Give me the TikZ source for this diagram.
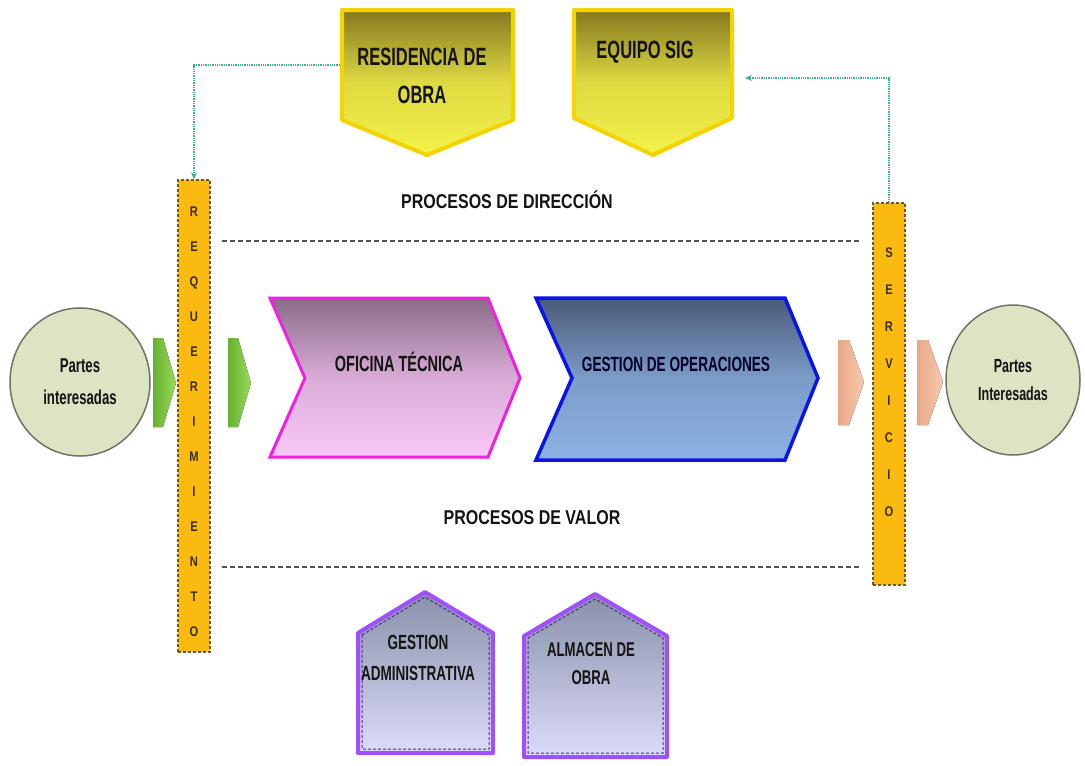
\documentclass[tikz,border=0pt]{standalone}
\usepackage{fontspec}
\setmainfont{Liberation Sans}
\newfontfamily\narrowbf[FakeStretch=0.66]{Liberation Sans}
\newfontfamily\midbf[FakeStretch=0.8]{Liberation Sans}
\usetikzlibrary{arrows.meta,shapes.geometric}
\definecolor{gold}{HTML}{F5D300}
\definecolor{olivetop}{HTML}{857820}
\definecolor{yelbot}{HTML}{F4F24A}
\definecolor{barfill}{HTML}{FBBA10}
\definecolor{bardash}{HTML}{6A5A30}
\definecolor{barletter}{HTML}{3A3010}
\definecolor{conncol}{HTML}{3CB48A}
\definecolor{sage}{HTML}{DCE4C4}
\definecolor{sageline}{HTML}{6E7468}
\definecolor{grnlight}{HTML}{9AD85A}
\definecolor{grndark}{HTML}{66B030}
\definecolor{peach}{HTML}{F8C8AC}
\definecolor{peachdk}{HTML}{E8A888}
\definecolor{magline}{HTML}{F020E0}
\definecolor{mauvetop}{HTML}{8A6A88}
\definecolor{pinkbot}{HTML}{FAC8F8}
\definecolor{blueline}{HTML}{0A14E6}
\definecolor{slatetop}{HTML}{4A5A78}
\definecolor{bluebot}{HTML}{8CB2E4}
\definecolor{purpline}{HTML}{A050F8}
\definecolor{purpdk}{HTML}{4A2A90}
\definecolor{housetop}{HTML}{8890A8}
\definecolor{housebot}{HTML}{DCDCFA}
\definecolor{dashgray}{HTML}{555555}
\definecolor{txtdark}{HTML}{141414}
\begin{document}
\begin{tikzpicture}[x=1pt,y=-1pt,
  yellowshape/.style={draw=gold,line width=4pt,line join=round,top color=olivetop,bottom color=yelbot,middle color=yelbot!80!olivetop},
  barbox/.style={rectangle,draw=bardash,densely dashed,line width=1.2pt,fill=barfill,inner sep=0pt},
  barletters/.style={align=center,text=barletter,font=\midbf\bfseries\fontsize{14}{35}\selectfont},
  conn/.style={conncol,densely dotted,line width=1.3pt,-{Stealth[length=7pt,width=6pt]}},
  sepline/.style={dashgray,dashed,line width=1.2pt,dash pattern=on 5pt off 3pt},
  party/.style={ellipse,draw=sageline,line width=1.5pt,fill=sage,inner sep=0pt,align=center,font=\narrowbf\bfseries\fontsize{20}{32}\selectfont,text=txtdark},
  greenarrow/.style={left color=grndark,right color=grnlight,draw=none},
  peacharrow/.style={left color=peachdk,right color=peach,draw=none},
  lbl/.style={align=center,text=txtdark,font=\narrowbf\bfseries\fontsize{25}{38}\selectfont},
  biglbl/.style={align=center,text=txtdark,font=\midbf\bfseries\fontsize{20}{24}\selectfont},
  house/.style={draw=purpline,line width=4pt,line join=round,top color=housetop,bottom color=housebot},
  houseinner/.style={draw=purpdk,densely dashed,line width=1pt}
]
\useasboundingbox (0,0) rectangle (1085,766);
\fill[white] (0,0) rectangle (1085,766);

% top yellow shapes
\draw[yellowshape] (342,10) -- (513,10) -- (513,120) -- (427,155) -- (342,120) -- cycle;
\draw[yellowshape] (574,10) -- (732,10) -- (732,118) -- (653,155) -- (574,118) -- cycle;
\node[lbl] (res) at (422,76) {RESIDENCIA DE\\OBRA};
\node[lbl] (sig) at (645,52) {EQUIPO SIG};
\coordinate (resL) at (340,65);
\coordinate (sigR) at (745,78);

% separators
\coordinate (d1a) at (222,241); \coordinate (d1b) at (862,241);
\coordinate (d2a) at (222,567); \coordinate (d2b) at (862,567);
\draw[sepline] (d1a) -- (d1b);
\draw[sepline] (d2a) -- (d2b);
\node[biglbl] (pdir) at (507,200) {PROCESOS DE DIRECCIÓN};
\node[biglbl] (pval) at (532,518) {PROCESOS DE VALOR};

% bars
\node[barbox,minimum width=32pt,minimum height=472pt] (req) at (194,416) {};
\node[barletters] (reqt) at (194,422) {R\\E\\Q\\U\\E\\R\\I\\M\\I\\E\\N\\T\\O};
\node[barbox,minimum width=32pt,minimum height=382pt] (serv) at (889,394) {};
\node[barletters,font=\midbf\bfseries\fontsize{14}{37}\selectfont] (servt) at (889,382) {S\\E\\R\\V\\I\\C\\I\\O};

% connectors
\draw[conn] (resL) -| (req.north);
\draw[conn] (serv.north) |- (sigR);

% parties
\node[party,minimum width=140pt,minimum height=148pt] (pl) at (80,382) {Partes\\interesadas};
\node[party,minimum width=134pt,minimum height=150pt,font=\narrowbf\bfseries\fontsize{19}{28}\selectfont] (pr) at (1013,380) {Partes\\Interesadas};

% small arrows
\fill[greenarrow] (153,338) -- (163,338) -- (176,383) -- (163,427) -- (153,427) -- cycle;
\fill[greenarrow] (228,338) -- (238,338) -- (251,383) -- (238,427) -- (228,427) -- cycle;
\fill[peacharrow] (838,340) -- (849,340) -- (864,382) -- (849,425) -- (838,425) -- cycle;
\fill[peacharrow] (917,340) -- (928,340) -- (943,382) -- (928,425) -- (917,425) -- cycle;

% chevrons
\draw[draw=magline,line width=3pt,line join=miter,top color=mauvetop,bottom color=pinkbot,middle color=pinkbot!70!mauvetop]
  (270,298) -- (488,298) -- (520,378) -- (488,457) -- (270,457) -- (305,378) -- cycle;
\node[lbl,font=\narrowbf\bfseries\fontsize{22}{24}\selectfont] (ofi) at (399,362) {OFICINA TÉCNICA};
\draw[draw=blueline,line width=3.5pt,line join=miter,top color=slatetop,bottom color=bluebot,middle color=bluebot!75!slatetop]
  (536,298) -- (785,298) -- (818,378) -- (785,460) -- (536,460) -- (572,378) -- cycle;
\node[lbl,font=\narrowbf\bfseries\fontsize{20.6}{24}\selectfont,text=black!85!blue] (gop) at (676,364) {GESTION DE OPERACIONES};

% houses
\draw[house] (358,633) -- (425,592) -- (493,633) -- (493,753) -- (358,753) -- cycle;
\draw[houseinner] (362,635) -- (425,597) -- (489,635) -- (489,749) -- (362,749) -- cycle;
\draw[house] (524,636) -- (595,594) -- (667,636) -- (667,757) -- (524,757) -- cycle;
\draw[houseinner] (528,638) -- (595,599) -- (663,638) -- (663,753) -- (528,753) -- cycle;
\node[lbl,font=\narrowbf\bfseries\fontsize{20.5}{31}\selectfont] (gadm) at (418,658) {GESTION\\ADMINISTRATIVA};
\node[lbl,font=\narrowbf\bfseries\fontsize{20}{28}\selectfont] (alm) at (591,664) {ALMACEN DE\\OBRA};
\end{tikzpicture}
\end{document}
